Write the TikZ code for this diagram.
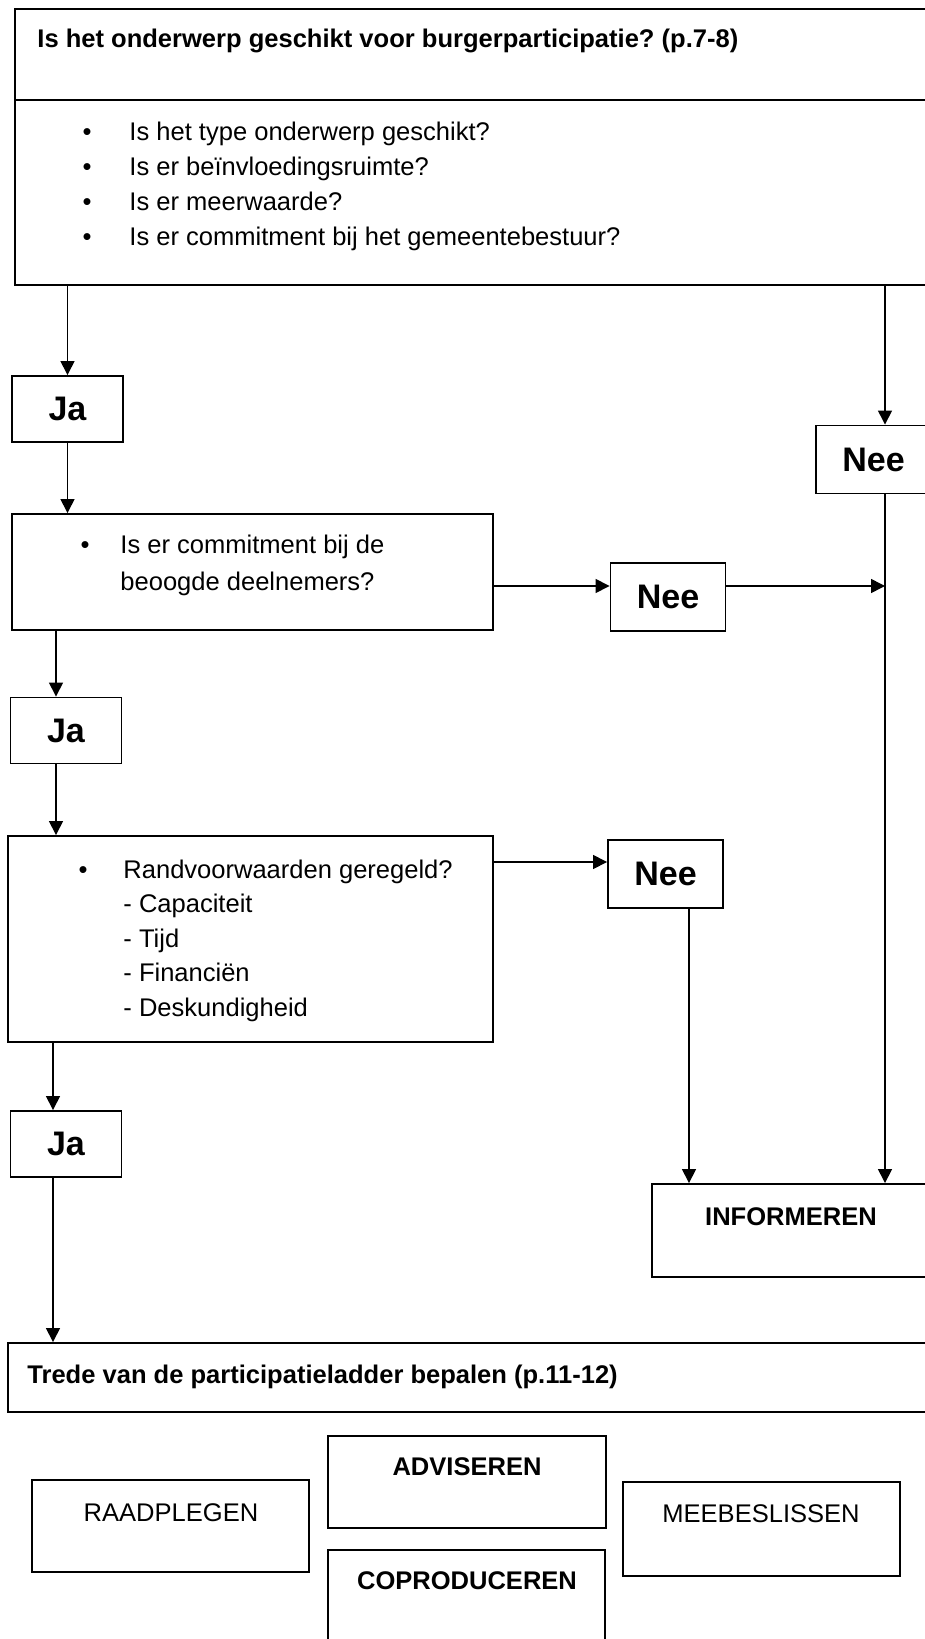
\documentclass[tikz,border=0pt]{standalone}
\usepackage{fontspec}
\setmainfont{Liberation Sans}
\frenchspacing
\usetikzlibrary{arrows.meta,fit}
\tikzset{vak/.style={draw,line width=0.9pt,inner sep=0pt}}
\tikzset{keuze/.style={vak,font=\fontsize{16}{19}\selectfont\bfseries}}
\tikzset{ja/.style={keuze,minimum width=111*0.47pt,minimum height=66*0.47pt}}
\tikzset{nee/.style={keuze,minimum width=115*0.47pt,minimum height=68*0.47pt}}
\tikzset{tekst/.style={inner sep=0pt,anchor=base west,font=\fontsize{12}{14}\selectfont}}
\tikzset{kop/.style={tekst,font=\fontsize{12}{14}\selectfont\bfseries}}
\tikzset{bol/.style={inner sep=0pt,anchor=base,font=\fontsize{12}{14}\selectfont}}
\tikzset{trede/.style={inner sep=0pt,anchor=base,font=\fontsize{12}{14}\selectfont}}
\tikzset{pijl/.style={line width=0.7pt,-{Triangle[length=6.5pt,width=6.5pt]}}}

\begin{document}
\begin{tikzpicture}[x=0.47pt,y=-0.47pt]
  \useasboundingbox (0,0) rectangle (924,1639);
  % kolommen en hoogtes voor de pijlen
  \coordinate (kolomL) at (56,0);
  \coordinate (kolomJ) at (53,0);
  \coordinate (kolomM) at (689,0);
  \coordinate (kolomR) at (885,0);
  \coordinate (hoogte2) at (0,586);
  \coordinate (hoogte3) at (0,862);

  % eerste vraag
  \node[vak,fit={(15,9) (930,285)}] (vraag1) {};
  \draw[vak] (15,100) -- (930,100);
  \node[kop] (kop1) at (37,48) {Is het onderwerp geschikt voor burgerparticipatie? (p.7-8)};
  \node[bol] (b11) at (87,141) {\textbullet};
  \node[tekst] (t11) at (129,141) {Is het type onderwerp geschikt?};
  \node[bol] (b12) at (87,176) {\textbullet};
  \node[tekst] (t12) at (129,176) {Is er beïnvloedingsruimte?};
  \node[bol] (b13) at (87,211) {\textbullet};
  \node[tekst] (t13) at (129,211) {Is er meerwaarde?};
  \node[bol] (b14) at (87,246) {\textbullet};
  \node[tekst] (t14) at (129,246) {Is er commitment bij het gemeentebestuur?};

  \node[ja] (ja1) at (67.5,409) {Ja};
  \node[nee] (nee1) at (873.5,459.5) {Nee};

  % tweede vraag
  \node[vak,fit={(12,514) (493,630)}] (vraag2) {};
  \node[bol] (b21) at (85,553) {\textbullet};
  \node[tekst] (t21) at (120,553) {Is er commitment bij de};
  \node[tekst] (t22) at (120,590) {beoogde deelnemers?};
  \node[nee] (nee2) at (668,597) {Nee};
  \node[ja] (ja2) at (66,730.5) {Ja};

  % derde vraag
  \node[vak,fit={(8,836) (493,1042)}] (vraag3) {};
  \node[bol] (b31) at (83,878) {\textbullet};
  \node[tekst] (t31) at (123,878) {Randvoorwaarden geregeld?};
  \node[tekst] (t32) at (123,912) {- Capaciteit};
  \node[tekst] (t33) at (123,947) {- Tijd};
  \node[tekst] (t34) at (123,981) {- Financiën};
  \node[tekst] (t35) at (123,1016) {- Deskundigheid};
  \node[nee] (nee3) at (665.5,874) {Nee};
  \node[ja] (ja3) at (66,1144) {Ja};

  \node[vak,fit={(652,1184) (930,1277)}] (informeren) {};
  \node[trede,font=\fontsize{12}{14}\selectfont\bfseries] (tinformeren) at (791,1225) {INFORMEREN};

  % participatieladder
  \node[vak,fit={(8,1343) (930,1412)}] (ladder) {};
  \node[kop] (kop2) at (27,1383) {Trede van de participatieladder bepalen (p.11-12)};
  \node[vak,fit={(32,1480) (309,1572)}] (raadplegen) {};
  \node[trede] (traadplegen) at (171,1521) {RAADPLEGEN};
  \node[vak,fit={(328,1436) (606,1528)}] (adviseren) {};
  \node[trede,font=\fontsize{12}{14}\selectfont\bfseries] (tadviseren) at (467,1475) {ADVISEREN};
  \node[vak,fit={(328,1550) (605,1690)}] (coproduceren) {};
  \node[trede,font=\fontsize{12}{14}\selectfont\bfseries] (tcoproduceren) at (467,1589) {COPRODUCEREN};
  \node[vak,fit={(623,1482) (900,1576)}] (meebeslissen) {};
  \node[trede] (tmeebeslissen) at (761,1522) {MEEBESLISSEN};

  % pijlen
  \draw[pijl] (vraag1.south -| ja1) -- (ja1.north);
  \draw[pijl] (vraag1.south -| kolomR) -- (nee1.north -| kolomR);
  \draw[pijl] (ja1.south) -- (vraag2.north -| ja1);
  \draw[pijl] (vraag2.east |- hoogte2) -- (nee2.west |- hoogte2);
  \draw[pijl] (nee2.east |- hoogte2) -- (kolomR |- hoogte2);
  \draw[pijl] (nee1.south -| kolomR) -- (informeren.north -| kolomR);
  \draw[pijl] (vraag2.south -| kolomL) -- (ja2.north -| kolomL);
  \draw[pijl] (ja2.south -| kolomL) -- (vraag3.north -| kolomL);
  \draw[pijl] (vraag3.east |- hoogte3) -- (nee3.west |- hoogte3);
  \draw[pijl] (nee3.south -| kolomM) -- (informeren.north -| kolomM);
  \draw[pijl] (vraag3.south -| kolomJ) -- (ja3.north -| kolomJ);
  \draw[pijl] (ja3.south -| kolomJ) -- (ladder.north -| kolomJ);
\end{tikzpicture}
\end{document}
